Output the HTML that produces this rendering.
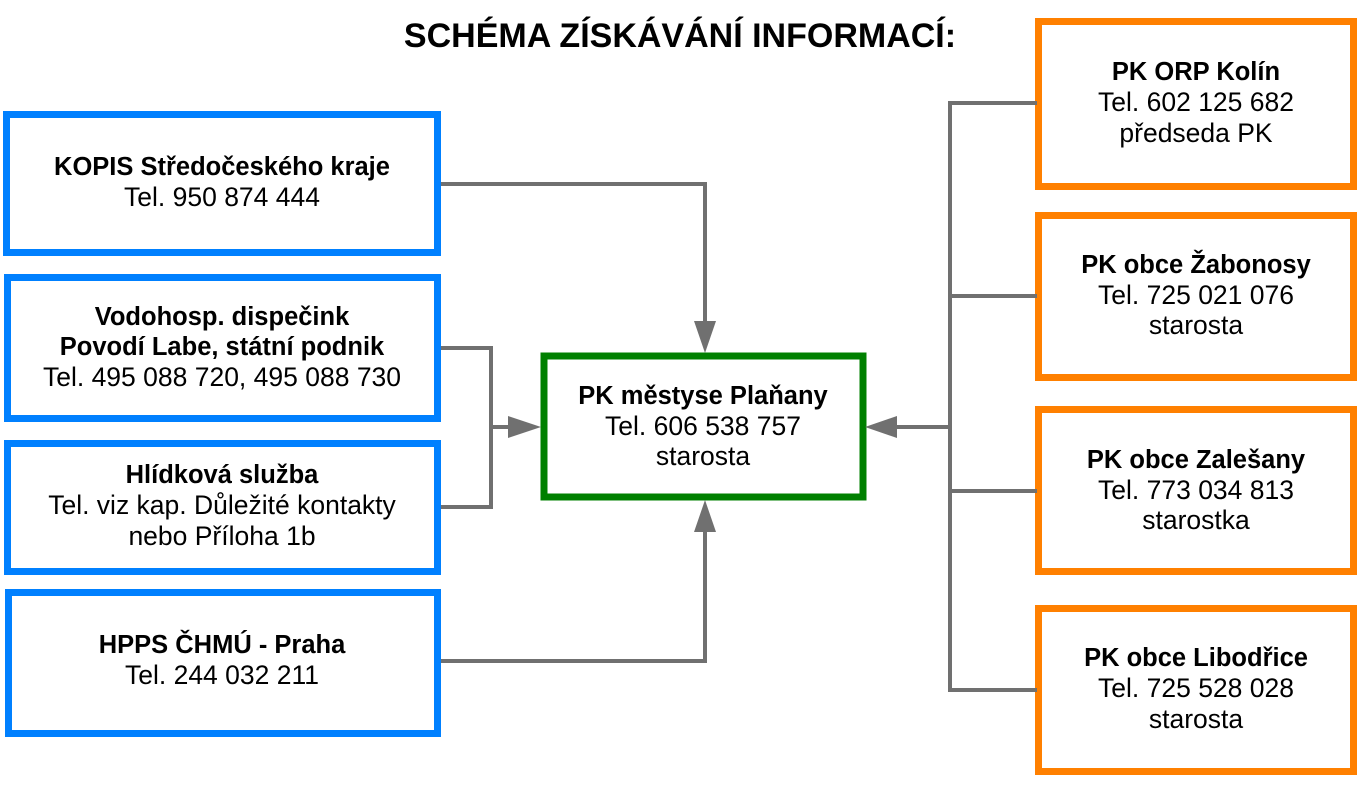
<!DOCTYPE html>
<html><head><meta charset="utf-8"><style>
html,body{margin:0;padding:0;background:#fff;}
svg{display:block}
text{font-family:"Liberation Sans",sans-serif;font-size:26.5px;fill:#000;text-anchor:middle;dominant-baseline:central}
.b{font-weight:bold;font-size:25.5px}
</style></head><body>
<svg width="1360" height="787" viewBox="0 0 1360 787" xmlns="http://www.w3.org/2000/svg">
<text x="680" y="36" class="b" style="font-size:34px">SCHÉMA ZÍSKÁVÁNÍ INFORMACÍ:</text>
<g fill="none" stroke="#0080ff" stroke-width="7">
<rect x="6.5" y="114.5" width="431" height="138"/>
<rect x="7.5" y="277.5" width="430" height="141"/>
<rect x="7.5" y="443.5" width="430" height="128"/>
<rect x="8.5" y="592.5" width="429" height="141"/>
</g>
<rect x="544" y="356" width="319" height="141" fill="none" stroke="#008000" stroke-width="7"/>
<g fill="none" stroke="#ff8000" stroke-width="7">
<rect x="1038.5" y="21.5" width="315" height="165"/>
<rect x="1038.5" y="215.5" width="315" height="162"/>
<rect x="1038.5" y="409.5" width="315" height="162"/>
<rect x="1038.5" y="608.5" width="315" height="163"/>
</g>
<g fill="none" stroke="#707070" stroke-width="4">
<polyline points="441,184 705,184 705,325"/>
<polyline points="441,348 491,348 491,507 441,507"/>
<line x1="491" y1="427" x2="515" y2="427"/>
<polyline points="441,661 705,661 705,528"/>
<line x1="950" y1="101" x2="950" y2="692"/>
<line x1="948" y1="103" x2="1037" y2="103"/>
<line x1="948" y1="296" x2="1037" y2="296"/>
<line x1="948" y1="491" x2="1037" y2="491"/>
<line x1="948" y1="690" x2="1037" y2="690"/>
<line x1="950" y1="427" x2="892" y2="427"/>
</g>
<g fill="#707070">
<polygon points="694,321 716,321 705,353"/>
<polygon points="694,532 716,532 705,500"/>
<polygon points="508,416 508,438 541,427"/>
<polygon points="897,416 897,438 865,427"/>
</g>
<text x="222" y="167" class="b">KOPIS Středočeského kraje</text>
<text x="222" y="197">Tel. 950 874 444</text>
<text x="222" y="317" class="b">Vodohosp. dispečink</text>
<text x="222" y="347" class="b">Povodí Labe, státní podnik</text>
<text x="222" y="377">Tel. 495 088 720, 495 088 730</text>
<text x="222" y="475" class="b">Hlídková služba</text>
<text x="222" y="505">Tel. viz kap. Důležité kontakty</text>
<text x="222" y="536">nebo Příloha 1b</text>
<text x="222" y="645" class="b">HPPS ČHMÚ - Praha</text>
<text x="222" y="675">Tel. 244 032 211</text>
<text x="703" y="396" class="b">PK městyse Plaňany</text>
<text x="703" y="426">Tel. 606 538 757</text>
<text x="703" y="456">starosta</text>
<text x="1196" y="72" class="b">PK ORP Kolín</text>
<text x="1196" y="102">Tel.  602 125 682</text>
<text x="1196" y="133">předseda PK</text>
<text x="1196" y="265" class="b">PK obce Žabonosy</text>
<text x="1196" y="295">Tel. 725 021 076</text>
<text x="1196" y="325">starosta</text>
<text x="1196" y="460" class="b">PK obce Zalešany</text>
<text x="1196" y="490">Tel. 773 034 813</text>
<text x="1196" y="520">starostka</text>
<text x="1196" y="658" class="b">PK obce Libodřice</text>
<text x="1196" y="688">Tel. 725 528 028</text>
<text x="1196" y="719">starosta</text>
</svg>
</body></html>
